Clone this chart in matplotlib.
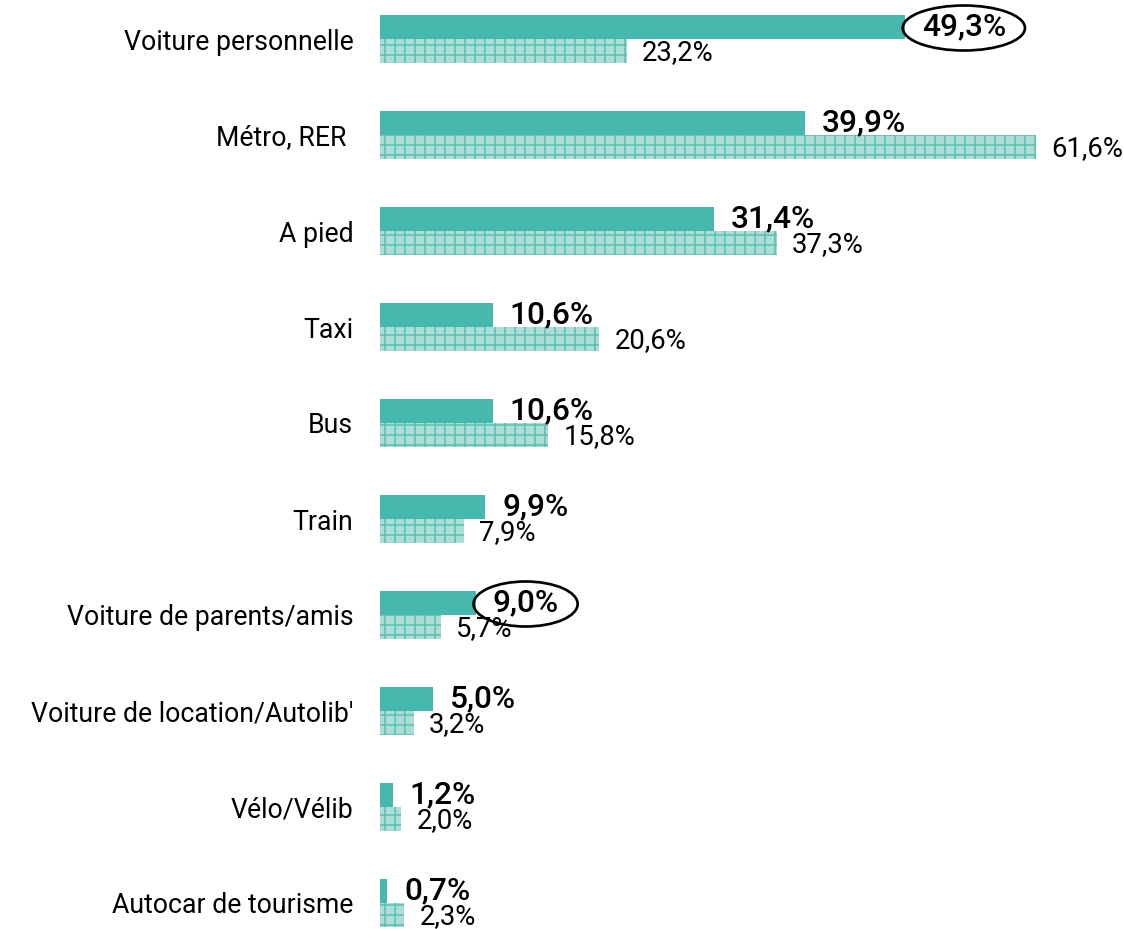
import matplotlib
matplotlib.use('Agg')
import matplotlib.pyplot as plt
from matplotlib.patches import Ellipse
from matplotlib.transforms import IdentityTransform
import numpy as np

plt.rcParams.update({'font.family': ['Roboto', 'DejaVu Sans'], 'hatch.linewidth': 0.9})

categories = ['Voiture personnelle', 'Métro, RER ', 'A pied', 'Taxi', 'Bus', 'Train',
              'Voiture de parents/amis', "Voiture de location/Autolib'", 'Vélo/Vélib',
              'Autocar de tourisme']
serie_a = [49.3, 39.9, 31.4, 10.6, 10.6, 9.9, 9.0, 5.0, 1.2, 0.7]
serie_b = [23.2, 61.6, 37.3, 20.6, 15.8, 7.9, 5.7, 3.2, 2.0, 2.3]
circled = [0, 6]

solid = '#46b8ad'
light = '#a9ddd6'
grid_col = '#5cbdb2'

W, H, dpi = 1124, 929, 120
fig = plt.figure(figsize=(W/dpi, H/dpi), dpi=dpi)
ax = fig.add_axes([380/W, 0, 1-380/W, 1])

y = np.arange(len(categories))
h = 0.25
ax.barh(y-h/2, serie_a, height=h, color=solid, linewidth=0)
ax.barh(y+h/2, serie_b, height=h, color=light, edgecolor=grid_col, linewidth=0, hatch='++')

def fmt(v):
    return ('%.1f%%' % v).replace('.', ',')

circ_txt = []
for i in range(len(categories)):
    t = ax.annotate(fmt(serie_a[i]), (serie_a[i], y[i]-h/2), xytext=(10, 0), textcoords='offset points',
                    va='center', ha='left', fontsize=19, fontweight='medium', zorder=5)
    if i in circled:
        circ_txt.append(t)
    ax.annotate(fmt(serie_b[i]), (serie_b[i], y[i]+h/2), xytext=(9, -1), textcoords='offset points',
                va='center', ha='left', fontsize=16.5)

ax.set_xlim(0, 744/10.65)
ax.set_ylim((H-39)/96, -39/96)
ax.set_yticks(y)
ax.set_yticklabels(categories, fontsize=16)
ax.tick_params(axis='y', length=0, pad=16)
ax.set_xticks([])
for s in ax.spines.values():
    s.set_visible(False)

# ellipses around highlighted values
fig.canvas.draw()
for t in circ_txt:
    bb = t.get_window_extent()
    e = Ellipse((bb.x0 + bb.width/2, bb.y0 + bb.height/2 - 1), bb.width + 38, 45,
                transform=IdentityTransform(), fill=False, ec='black', lw=1.6, zorder=6)
    fig.patches.append(e)

fig.savefig('out.png', dpi=dpi)
